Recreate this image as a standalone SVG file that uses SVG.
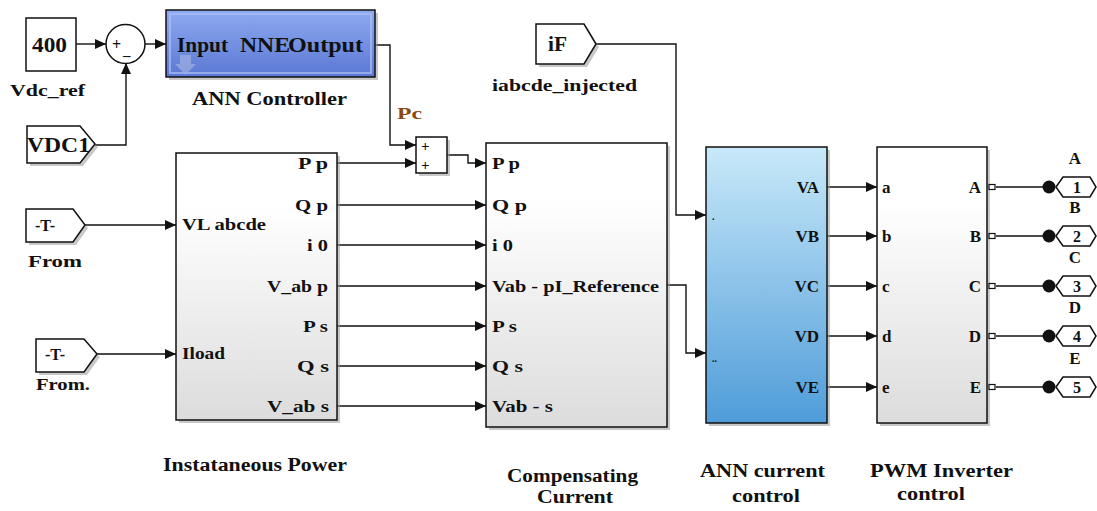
<svg xmlns="http://www.w3.org/2000/svg" width="1097" height="511" viewBox="0 0 1097 511">
<style>
text{font-family:"Liberation Serif","DejaVu Serif",serif;font-weight:bold;fill:#111}
.lbl{font-size:18px}
.pl{font-size:17px}
.blk{stroke:#111;stroke-width:1.5}
.ln{fill:none;stroke:#111;stroke-width:1.4}
.sh{fill:#9a9a9a;opacity:0.55}
</style>
<defs>
<marker id="ar" markerUnits="userSpaceOnUse" markerWidth="12" markerHeight="10" refX="11" refY="5" orient="auto">
<path d="M0,0 L11,5 L0,10 Z" fill="#111"/>
</marker>
<linearGradient id="gw" x1="0" y1="0" x2="0" y2="1">
<stop offset="0" stop-color="#ffffff"/><stop offset="0.2" stop-color="#ffffff"/><stop offset="1" stop-color="#dcdcdc"/>
</linearGradient>
<linearGradient id="gb" x1="0" y1="0" x2="0" y2="1">
<stop offset="0" stop-color="#c8e9f9"/><stop offset="1" stop-color="#4f9cd9"/>
</linearGradient>
<linearGradient id="gn" x1="0" y1="0" x2="0" y2="1">
<stop offset="0" stop-color="#8eaaf0"/><stop offset="1" stop-color="#5a78d4"/>
</linearGradient>
</defs>

<g id="connectors">
<path class="ln" d="M76,44 H106" marker-end="url(#ar)"/>
<path class="ln" d="M145,44 H166" marker-end="url(#ar)"/>
<path class="ln" d="M95,145 H126 V63" marker-end="url(#ar)"/>
<path class="ln" d="M375,45 H390 V145 H416" marker-end="url(#ar)"/>
<path class="ln" d="M337,163 H416" marker-end="url(#ar)"/>
<path class="ln" d="M447,155 H468 V163 H486" marker-end="url(#ar)"/>
<path class="ln" d="M596,44 H676 V215 H706" marker-end="url(#ar)"/>
<path class="ln" d="M85,225 H176" marker-end="url(#ar)"/>
<path class="ln" d="M97,354 H176" marker-end="url(#ar)"/>
<path class="ln" d="M337,205 H486" marker-end="url(#ar)"/>
<path class="ln" d="M337,245 H486" marker-end="url(#ar)"/>
<path class="ln" d="M337,286 H486" marker-end="url(#ar)"/>
<path class="ln" d="M337,326 H486" marker-end="url(#ar)"/>
<path class="ln" d="M337,366 H486" marker-end="url(#ar)"/>
<path class="ln" d="M337,406 H486" marker-end="url(#ar)"/>
<path class="ln" d="M667,285 H686 V353 H706" marker-end="url(#ar)"/>
<path class="ln" d="M827,187 H877" marker-end="url(#ar)"/>
<path class="ln" d="M827,236 H877" marker-end="url(#ar)"/>
<path class="ln" d="M827,286 H877" marker-end="url(#ar)"/>
<path class="ln" d="M827,336 H877" marker-end="url(#ar)"/>
<path class="ln" d="M827,387 H877" marker-end="url(#ar)"/>
<path class="ln" d="M996,187 H1049"/>
<path class="ln" d="M996,236 H1049"/>
<path class="ln" d="M996,286 H1049"/>
<path class="ln" d="M996,336 H1049"/>
<path class="ln" d="M996,387 H1049"/>
<text x="397" y="119" class="pl" textLength="25" lengthAdjust="spacingAndGlyphs" style="fill:#8a4a10">Pc</text>
</g>

<g id="const400">
<rect x="26" y="18" width="50" height="53" fill="#fff" class="blk"/>
<text x="32" y="52" style="font-size:21px" textLength="35" lengthAdjust="spacingAndGlyphs">400</text>
<text x="10" y="96" class="pl" textLength="75" lengthAdjust="spacingAndGlyphs">Vdc_ref</text>
</g>

<g id="sum1">
<circle cx="125.5" cy="44" r="19.5" fill="#fff" class="blk"/>
<text x="112" y="50" style="font-size:16px">+</text>
<text x="123" y="55" style="font-size:15px">_</text>
</g>

<g id="vdc1">
<path d="M30,129 H83 L98,147 L83,166 H30 Z" class="sh"/>
<path d="M27,126 H80 L95,144 L80,163 H27 Z" fill="#fff" class="blk"/>
<text x="27" y="152" style="font-size:21px" textLength="63" lengthAdjust="spacingAndGlyphs">VDC1</text>
</g>

<g id="ann_controller">
<rect x="169" y="13" width="209" height="67" class="sh"/>
<rect x="166" y="10" width="209" height="67" fill="url(#gn)" class="blk"/>
<rect x="170" y="14" width="201" height="59" fill="none" stroke="#aebff5" stroke-width="2" opacity="0.7"/>
<path d="M180,55 H191 V64 H196 L185.5,75 L175,64 H180 Z" fill="#9fb0e0" opacity="0.7"/>
<text x="177" y="52" style="font-size:21px" textLength="51" lengthAdjust="spacingAndGlyphs">Input</text>
<text x="240" y="52" style="font-size:21px" textLength="50" lengthAdjust="spacingAndGlyphs">NNE</text>
<text x="288" y="52" style="font-size:21px" textLength="75" lengthAdjust="spacingAndGlyphs">Output</text>
<text x="192" y="105" class="lbl" textLength="155" lengthAdjust="spacingAndGlyphs">ANN Controller</text>
</g>

<g id="sum2">
<rect x="419" y="140" width="31" height="36" class="sh"/>
<rect x="416" y="137" width="31" height="36" fill="#fff" class="blk"/>
<text x="421" y="151" style="font-size:15px">+</text>
<text x="421" y="170" style="font-size:15px">+</text>
</g>

<g id="iF">
<path d="M539,27 H587 L599,47 L587,67 H539 Z" class="sh"/>
<path d="M536,24 H584 L596,44 L584,64 H536 Z" fill="#fff" class="blk"/>
<text x="548" y="51" style="font-size:20px" textLength="19" lengthAdjust="spacingAndGlyphs">iF</text>
<text x="492" y="91" class="pl" textLength="145" lengthAdjust="spacingAndGlyphs">iabcde_injected</text>
</g>

<g id="from1">
<path d="M29,212 H76 L88,228 L76,245 H29 Z" class="sh"/>
<path d="M26,209 H73 L85,225 L73,242 H26 Z" fill="#fff" class="blk"/>
<text x="35" y="231" style="font-size:16px" textLength="20" lengthAdjust="spacingAndGlyphs">-T-</text>
<text x="28" y="267" class="pl" textLength="54" lengthAdjust="spacingAndGlyphs">From</text>
</g>

<g id="from2">
<path d="M39,342 H87 L100,357 L87,375 H39 Z" class="sh"/>
<path d="M36,339 H84 L97,354 L84,372 H36 Z" fill="#fff" class="blk"/>
<text x="45" y="360" style="font-size:16px" textLength="20" lengthAdjust="spacingAndGlyphs">-T-</text>
<text x="36" y="390" class="pl" textLength="54" lengthAdjust="spacingAndGlyphs">From.</text>
</g>

<g id="inst_power">
<rect x="179" y="156" width="161" height="267" class="sh"/>
<rect x="176" y="153" width="161" height="267" fill="url(#gw)" class="blk"/>
<text x="182" y="230" class="pl" textLength="84" lengthAdjust="spacingAndGlyphs">VL abcde</text>
<text x="182" y="359" class="pl" textLength="43" lengthAdjust="spacingAndGlyphs">Iload</text>
<g class="pl">
<text x="298" y="169" textLength="30" lengthAdjust="spacingAndGlyphs">P p</text>
<text x="295" y="211" textLength="33" lengthAdjust="spacingAndGlyphs">Q p</text>
<text x="307" y="251" textLength="21" lengthAdjust="spacingAndGlyphs">i 0</text>
<text x="267" y="292" textLength="61" lengthAdjust="spacingAndGlyphs">V_ab p</text>
<text x="303" y="332" textLength="25" lengthAdjust="spacingAndGlyphs">P s</text>
<text x="297" y="372" textLength="32" lengthAdjust="spacingAndGlyphs">Q s</text>
<text x="267" y="412" textLength="62" lengthAdjust="spacingAndGlyphs">V_ab s</text>
</g>
<text x="163" y="471" class="lbl" textLength="184" lengthAdjust="spacingAndGlyphs">Instataneous Power</text>
</g>

<g id="comp_current">
<rect x="489" y="146" width="181" height="284" class="sh"/>
<rect x="486" y="143" width="181" height="284" fill="url(#gw)" class="blk"/>
<g class="pl">
<text x="492" y="169" textLength="28" lengthAdjust="spacingAndGlyphs">P p</text>
<text x="492" y="211" textLength="35" lengthAdjust="spacingAndGlyphs">Q p</text>
<text x="492" y="251" textLength="21" lengthAdjust="spacingAndGlyphs">i 0</text>
<text x="492" y="292" textLength="167" lengthAdjust="spacingAndGlyphs">Vab - pI_Reference</text>
<text x="492" y="332" textLength="25" lengthAdjust="spacingAndGlyphs">P s</text>
<text x="492" y="372" textLength="31" lengthAdjust="spacingAndGlyphs">Q s</text>
<text x="492" y="412" textLength="61" lengthAdjust="spacingAndGlyphs">Vab - s</text>
</g>
<text x="507" y="482" class="lbl" textLength="131" lengthAdjust="spacingAndGlyphs">Compensating</text>
<text x="537" y="503" class="lbl" textLength="76" lengthAdjust="spacingAndGlyphs">Current</text>
</g>

<g id="ann_current">
<rect x="709" y="150" width="121" height="276" class="sh"/>
<rect x="706" y="147" width="121" height="276" fill="url(#gb)" class="blk"/>
<text x="712" y="220" style="font-size:10px">.</text>
<text x="712" y="362" style="font-size:10px">..</text>
<g class="pl" text-anchor="end">
<text x="819" y="193">VA</text>
<text x="819" y="242">VB</text>
<text x="819" y="292">VC</text>
<text x="819" y="342">VD</text>
<text x="819" y="393">VE</text>
</g>
<text x="700" y="477" class="lbl" textLength="125" lengthAdjust="spacingAndGlyphs">ANN current</text>
<text x="732" y="502" class="lbl" textLength="68" lengthAdjust="spacingAndGlyphs">control</text>
</g>

<g id="pwm">
<rect x="880" y="150" width="110" height="276" class="sh"/>
<rect x="877" y="147" width="110" height="276" fill="url(#gw)" class="blk"/>
<g class="pl">
<text x="882" y="193">a</text>
<text x="882" y="242">b</text>
<text x="882" y="292">c</text>
<text x="882" y="342">d</text>
<text x="882" y="393">e</text>
</g>
<g class="pl" text-anchor="end">
<text x="981" y="193">A</text>
<text x="981" y="242">B</text>
<text x="981" y="292">C</text>
<text x="981" y="342">D</text>
<text x="981" y="393">E</text>
</g>
<g fill="#fff" stroke="#111" stroke-width="1.2">
<rect x="989" y="184.5" width="6" height="5"/>
<rect x="989" y="233.5" width="6" height="5"/>
<rect x="989" y="283.5" width="6" height="5"/>
<rect x="989" y="333.5" width="6" height="5"/>
<rect x="989" y="384.5" width="6" height="5"/>
</g>
<text x="870" y="477" class="lbl" textLength="143" lengthAdjust="spacingAndGlyphs">PWM Inverter</text>
<text x="897" y="500" class="lbl" textLength="68" lengthAdjust="spacingAndGlyphs">control</text>
</g>

<g id="out1">
<circle cx="1049" cy="187" r="6.5" fill="#111"/>
<path d="M1056,187 L1063,177 H1090 L1096,187 L1090,197 H1063 Z" fill="#fff" class="blk"/>
<text x="1077" y="193" text-anchor="middle" style="font-size:16px">1</text>
<text x="1075" y="164" text-anchor="middle" class="pl">A</text>
</g>
<g id="out2">
<circle cx="1049" cy="236" r="6.5" fill="#111"/>
<path d="M1056,236 L1063,226 H1090 L1096,236 L1090,246 H1063 Z" fill="#fff" class="blk"/>
<text x="1077" y="242" text-anchor="middle" style="font-size:16px">2</text>
<text x="1075" y="213" text-anchor="middle" class="pl">B</text>
</g>
<g id="out3">
<circle cx="1049" cy="286" r="6.5" fill="#111"/>
<path d="M1056,286 L1063,276 H1090 L1096,286 L1090,296 H1063 Z" fill="#fff" class="blk"/>
<text x="1077" y="292" text-anchor="middle" style="font-size:16px">3</text>
<text x="1075" y="263" text-anchor="middle" class="pl">C</text>
</g>
<g id="out4">
<circle cx="1049" cy="336" r="6.5" fill="#111"/>
<path d="M1056,336 L1063,326 H1090 L1096,336 L1090,346 H1063 Z" fill="#fff" class="blk"/>
<text x="1077" y="342" text-anchor="middle" style="font-size:16px">4</text>
<text x="1075" y="313" text-anchor="middle" class="pl">D</text>
</g>
<g id="out5">
<circle cx="1049" cy="387" r="6.5" fill="#111"/>
<path d="M1056,387 L1063,377 H1090 L1096,387 L1090,397 H1063 Z" fill="#fff" class="blk"/>
<text x="1077" y="393" text-anchor="middle" style="font-size:16px">5</text>
<text x="1075" y="364" text-anchor="middle" class="pl">E</text>
</g>
</svg>
